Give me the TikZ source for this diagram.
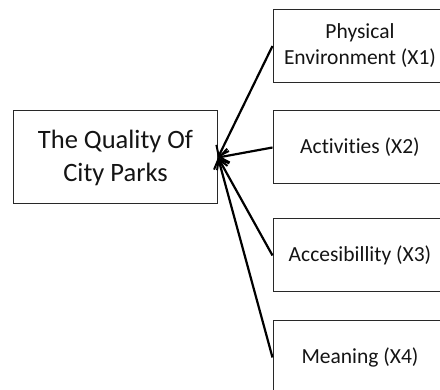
\documentclass[tikz,border=0pt]{standalone}
\usepackage{fontspec}
\setmainfont{Carlito}[Ligatures=NoCommon]
\usepackage{xcolor}
\usetikzlibrary{arrows.meta}

\definecolor{boxline}{RGB}{40,40,40}
\definecolor{labeltext}{RGB}{20,20,20}

\tikzset{
	mainbox/.style={draw=boxline, line width=1pt, minimum width=204pt, minimum height=93pt,
		align=center, inner sep=0pt, text=labeltext, font=\fontsize{26.5}{33}\selectfont},
	factor/.style={draw=boxline, line width=1pt, minimum width=174pt, minimum height=73pt,
		align=center, inner sep=0pt, text=labeltext, font=\fontsize{21.5}{26}\selectfont},
	link/.style={line width=2.2pt, -{Straight Barb[length=9pt,width=14pt,line width=2pt]}}
}

\begin{document}
\begin{tikzpicture}[x=1pt,y=1pt,yscale=-1]
	\useasboundingbox (0,0) rectangle (440,390);
	\clip (0,0) rectangle (440,390);

	% dependent variable
	\node[mainbox] (quality) at (115.5,157.5) {The Quality Of\\City Parks};

	% the four factors
	\node[factor] (x1) at (360,46) {Physical\\Environment (X1)};
	\node[factor] (x2) at (360,147.5) {Activities (X2)};
	\node[factor] (x3) at (360,255.5) {Accesibillity (X3)};
	\node[factor] (x4) at (360,357.5) {Meaning (X4)};

	% links
	\draw[link] (x1.west) -- (quality.east);
	\draw[link] (x2.west) -- (quality.east);
	\draw[link] (x3.west) -- (quality.east);
	\draw[link] (x4.west) -- (quality.east);
\end{tikzpicture}
\end{document}
